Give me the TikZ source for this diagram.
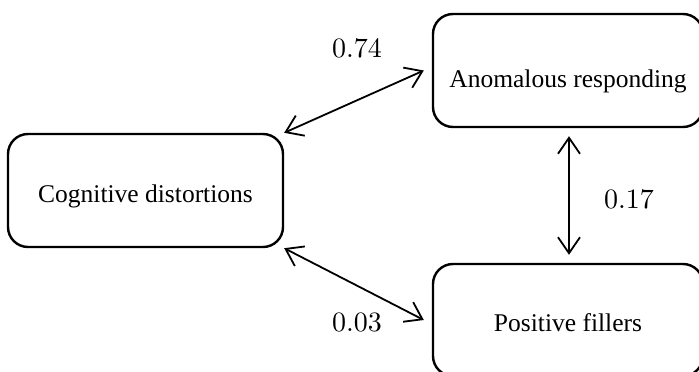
\documentclass[tikz,border=0pt]{standalone}
\usepackage{fontspec}
\setmainfont{Liberation Serif}
\newfontfamily\lmfont{lmroman10-regular}[Extension=.otf]
\usetikzlibrary{arrows.meta}
\begin{document}
\begin{tikzpicture}[x=1pt,y=-1pt,
  box/.style={draw, line width=2.4pt, rounded corners=20pt, inner sep=0pt,
    font=\fontsize{25.5}{30}\selectfont, text depth=0pt},
  link/.style={line width=1.8pt,
    {Straight Barb[length=16pt,width=22pt]}-{Straight Barb[length=16pt,width=22pt]}},
  coef/.style={font=\lmfont\fontsize{28}{32}\selectfont, inner sep=0pt}]
\useasboundingbox (0,0) rectangle (699,372);
\node[box, minimum width=275pt, minimum height=113pt, text height=23pt] (cog) at (145.5,190.5) {Cognitive distortions};
\node[box, minimum width=270pt, minimum height=113pt, text height=34pt] (anom) at (568,70.5) {Anomalous responding};
\node[box, minimum width=270pt, minimum height=112pt, text height=23pt] (pos) at (568,320) {Positive fillers};
\coordinate (anomW) at ([xshift=-8pt]anom.west);
\coordinate (posW) at ([xshift=-8pt]pos.west);
\coordinate (anomS) at ([xshift=1pt,yshift=-8pt]anom.south);
\coordinate (posN) at ([xshift=1pt,yshift=8pt]pos.north);
\draw[link] (cog.north east) -- (anomW);
\draw[link] (cog.south east) -- (posW);
\draw[link] (anomS) -- (posN);
\node[coef] (c1) at (357,48) {0.74};
\node[coef] (c2) at (629,199) {0.17};
\node[coef] (c3) at (357,322) {0.03};
\end{tikzpicture}
\end{document}
